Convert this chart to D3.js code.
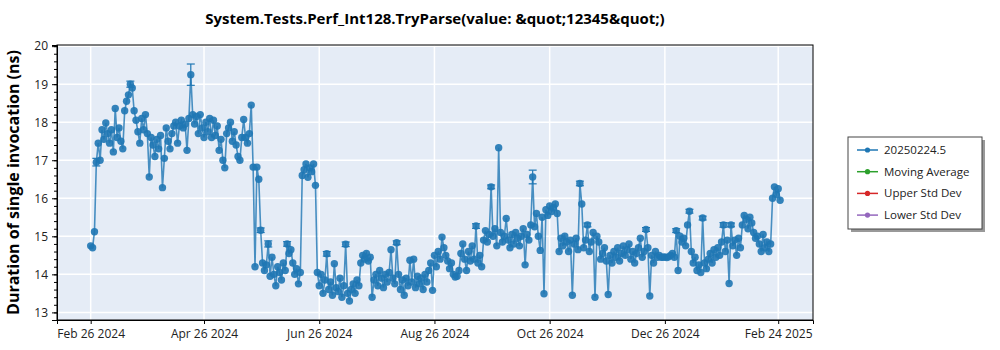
<html>
<head>
    <meta charset="utf-8">
    <title>System.Tests.Perf_Int128.TryParse</title>
    <style>
        body { margin: 0; background: #fff; }
        text { font-family: "Open Sans", "Noto Sans", sans-serif; }
    </style>
</head>
<body>
<script src="https://cdn.jsdelivr.net/npm/d3@7"></script>
<script>
    var width = 1000, height = 350;

    // first run date, one result per day after it
    const startDate = "2024-02-26";
    const values = [
        14.75, 14.7, 15.12, 16.95, 17.45, 17.0, 17.8, 17.55, 17.98, 17.7,
        17.45, 17.8, 17.22, 18.36, 17.6, 17.85, 17.5, 17.3, 18.3, 18.55,
        18.72, 19.0, 18.9, 18.3, 18.05, 17.75, 17.45, 18.1, 17.8, 18.2,
        17.7, 16.56, 17.6, 17.4, 17.1, 17.55, 17.3, 17.65, 16.28, 17.05,
        17.85, 17.5, 17.3, 17.7, 17.9, 18.0, 17.45, 17.9, 18.05, 17.85,
        17.95, 17.26, 18.1, 19.25, 18.2, 17.95, 18.15, 17.7, 18.2, 17.85,
        17.6, 18.0, 17.75, 18.1, 17.6, 18.05, 17.65, 17.9, 17.26, 17.55,
        17.0, 16.8, 17.7, 17.85, 18.0, 17.5, 17.75, 17.4, 17.1, 17.0,
        17.6, 18.07, 17.6, 17.45, 17.7, 18.45, 16.82, 14.2, 16.82, 16.5,
        15.16, 14.3, 14.1, 14.25, 14.8, 13.95, 14.45, 14.0, 13.7, 14.2,
        14.05, 13.85, 14.3, 14.1, 14.8, 14.55, 14.65, 14.3, 14.0, 14.15,
        13.75, 14.05, 16.6, 16.75, 16.9, 16.55, 16.8, 16.7, 16.9, 16.34,
        14.05, 13.7, 14.0, 13.5, 13.85, 14.54, 13.6, 13.8, 13.45, 14.28,
        13.65, 13.55, 13.9, 13.4, 13.7, 14.79, 13.5, 13.3, 13.6, 13.75,
        13.5, 13.85, 13.7, 14.3, 14.5, 14.4, 14.55, 14.35, 14.45, 13.4,
        13.85, 14.0, 13.7, 14.1, 13.9, 13.65, 14.0, 13.8, 14.05, 14.65,
        13.9, 13.75, 14.83, 14.0, 13.6, 13.85, 13.45, 13.9, 13.7, 14.37,
        13.8, 14.4, 13.65, 13.95, 13.75, 13.9, 13.6, 14.0, 13.8, 14.1,
        14.3, 13.58, 14.5, 14.2, 14.6, 14.4, 14.98, 14.7, 14.5, 14.35,
        14.15, 14.3, 14.0, 13.93, 13.95, 14.1, 14.55, 14.8, 14.4, 14.1,
        14.6, 14.35, 14.75, 14.4, 15.27, 14.3, 14.5, 14.2, 14.9, 15.15,
        14.85, 15.05, 16.3, 15.0, 15.2, 14.75, 17.33, 15.1, 14.85, 15.0,
        15.47, 14.9, 14.7, 15.05, 14.8, 15.1, 14.95, 14.75, 15.0, 15.2,
        14.25, 15.05, 14.9, 15.3, 16.56, 15.25, 15.6, 15.0, 14.63, 15.5,
        13.49, 15.7, 15.55, 15.8, 15.65, 15.75, 15.85, 15.6, 14.6, 14.95,
        14.75, 15.0, 14.85, 14.6, 14.9, 13.45, 14.8, 14.95, 14.65, 16.39,
        15.85, 14.7, 14.9, 15.3, 14.6, 14.85, 15.1, 13.4, 15.0, 14.85,
        14.4, 14.55, 14.7, 14.35, 13.47, 14.5, 14.3, 14.6, 14.45, 14.7,
        14.35, 14.55, 14.75, 14.5, 14.65, 14.8, 14.4, 14.6, 14.3, 14.55,
        14.7, 14.95, 14.45, 14.6, 15.18, 14.7, 13.43, 14.5, 14.3, 14.6,
        14.45, 14.5, 14.45, 14.45, 14.46, 14.44, 14.46, 14.5, 14.55, 14.45,
        15.15, 14.1, 15.0, 14.85, 14.95, 14.75, 15.3, 15.66, 14.6, 14.3,
        14.45, 14.1, 14.25, 14.05, 15.48, 14.3, 14.15, 14.4, 14.55, 14.3,
        14.65, 14.45, 14.7, 14.5, 14.85, 15.3, 14.6, 14.9, 13.76, 15.3,
        14.75, 14.9, 14.5, 14.95, 14.7, 15.3, 15.55, 15.45, 15.2, 15.5,
        15.35, 15.1, 14.95, 15.0, 14.8, 14.6, 15.05, 14.7, 14.85, 14.6,
        14.8, 16.0, 16.3, 16.1, 16.25, 15.95
    ];
    // runs whose error bars stick out past the marker
    const errIndex = [3, 21, 53, 90, 94, 104, 125, 135, 162, 204, 212, 234, 259, 263, 294, 310, 317, 324, 335, 339];
    const errSize = [0.1, 0.08, 0.28, 0.06, 0.08, 0.06, 0.06, 0.06, 0.05, 0.06, 0.05, 0.18, 0.06, 0.05, 0.05, 0.05, 0.05, 0.05, 0.06, 0.05];

    const tickDates = ["2024-02-26", "2024-04-26", "2024-06-26", "2024-08-26", "2024-10-26", "2024-12-26", "2025-02-24"];
    const yTicks = [13, 14, 15, 16, 17, 18, 19, 20];
    const legendNames = ["20250224.5", "Moving Average", "Upper Std Dev", "Lower Std Dev"];
    const legendColors = ["#1f77b4", "#2ca02c", "#d62728", "#9467bd"];

    var parse = d3.utcParse("%Y-%m-%d");
    var start = parse(startDate);
    var points = values.map(function (v, i) {
        return { date: d3.utcDay.offset(start, i), value: v };
    });

    var plotL = 57, plotR = 813, plotT = 45, plotB = 320;

    var x = d3.scaleUtc()
        .domain([d3.utcParse("%Y-%m-%dT%H")("2024-02-08T04"), d3.utcParse("%Y-%m-%dT%H")("2025-03-14T10")])
        .range([plotL, plotR]);
    var y = d3.scaleLinear()
        .domain([12.8, 20.03])
        .range([plotB, plotT]);

    var svg = d3.select("body").append("svg")
        .attr("width", width)
        .attr("height", height);

    // plot background
    svg.append("rect")
        .attr("x", plotL).attr("y", plotT)
        .attr("width", plotR - plotL).attr("height", plotB - plotT)
        .attr("fill", "#e5ecf6");

    // grid lines
    svg.append("g").selectAll("line")
        .data(yTicks)
        .enter().append("line")
        .attr("x1", plotL).attr("x2", plotR)
        .attr("y1", d => y(d)).attr("y2", d => y(d))
        .attr("stroke", "#fff").attr("stroke-width", 1.5);
    svg.append("g").selectAll("line")
        .data(tickDates.map(parse))
        .enter().append("line")
        .attr("y1", plotT).attr("y2", plotB)
        .attr("x1", d => x(d)).attr("x2", d => x(d))
        .attr("stroke", "#fff").attr("stroke-width", 1.5);

    var blue = "#1f77b4";
    var plot = svg.append("g");

    var line = d3.line()
        .x(d => x(d.date))
        .y(d => y(d.value));
    plot.append("path")
        .datum(points)
        .attr("d", line)
        .attr("fill", "none")
        .attr("stroke", blue)
        .attr("stroke-opacity", 0.8)
        .attr("stroke-width", 1.6);

    // error bars
    var errs = errIndex.map(function (idx, k) { return { p: points[idx], e: errSize[k] }; });
    var eg = plot.selectAll("g.err")
        .data(errs)
        .enter().append("g")
        .attr("class", "err")
        .attr("stroke", blue).attr("stroke-width", 1.2);
    eg.append("line")
        .attr("x1", d => x(d.p.date)).attr("x2", d => x(d.p.date))
        .attr("y1", d => y(d.p.value - d.e)).attr("y2", d => y(d.p.value + d.e));
    eg.append("line")
        .attr("x1", d => x(d.p.date) - 4).attr("x2", d => x(d.p.date) + 4)
        .attr("y1", d => y(d.p.value + d.e)).attr("y2", d => y(d.p.value + d.e));
    eg.append("line")
        .attr("x1", d => x(d.p.date) - 4).attr("x2", d => x(d.p.date) + 4)
        .attr("y1", d => y(d.p.value - d.e)).attr("y2", d => y(d.p.value - d.e));

    plot.selectAll("circle")
        .data(points)
        .enter().append("circle")
        .attr("cx", d => x(d.date))
        .attr("cy", d => y(d.value))
        .attr("r", 3.7)
        .attr("fill", blue)
        .attr("fill-opacity", 0.9);

    // frame
    svg.append("rect")
        .attr("x", plotL).attr("y", plotT)
        .attr("width", plotR - plotL).attr("height", plotB - plotT)
        .attr("fill", "none").attr("stroke", "#000").attr("stroke-width", 1);

    // y axis with minor ticks
    var yAxis = svg.append("g").attr("transform", "translate(" + plotL + ",0)");
    yAxis.call(d3.axisLeft(y).tickValues(d3.range(13, 20.01, 0.2)).tickSize(3).tickFormat(""));
    yAxis.append("g").call(d3.axisLeft(y).tickValues(yTicks).tickSize(5).tickPadding(4).tickFormat(d3.format("d")));
    yAxis.selectAll(".domain").attr("stroke", "#000");
    yAxis.selectAll("text").attr("font-size", "12px").attr("fill", "#222")
        .style("font-family", "'Open Sans', 'Noto Sans', sans-serif");

    var xAxis = svg.append("g").attr("transform", "translate(0," + plotB + ")");
    xAxis.call(d3.axisBottom(x).tickValues(tickDates.map(parse)).tickSize(4).tickPadding(5)
        .tickFormat(d3.utcFormat("%b %d %Y")));
    xAxis.selectAll(".domain").attr("stroke", "#000");
    xAxis.selectAll("text").attr("font-size", "12px").attr("fill", "#222")
        .style("font-family", "'Open Sans', 'Noto Sans', sans-serif");

    // titles
    svg.append("text")
        .attr("x", (plotL + plotR) / 2).attr("y", 24)
        .attr("text-anchor", "middle")
        .attr("font-size", "15px").attr("font-weight", "bold")
        .text("System.Tests.Perf_Int128.TryParse(value: &quot;12345&quot;)");
    svg.append("text")
        .attr("transform", "translate(19," + ((plotT + plotB) / 2) + ") rotate(-90)")
        .attr("text-anchor", "middle")
        .attr("font-size", "16px").attr("font-weight", "bold")
        .text("Duration of single invocation (ns)");

    // legend
    var lg = svg.append("g").attr("transform", "translate(848,137)");
    lg.append("rect").attr("x", 3).attr("y", 3).attr("width", 134).attr("height", 92).attr("fill", "#999");
    lg.append("rect").attr("width", 134).attr("height", 92).attr("fill", "#fff").attr("stroke", "#444");
    var items = lg.selectAll("g.item")
        .data(legendNames)
        .enter().append("g")
        .attr("class", "item")
        .attr("transform", (d, i) => "translate(0," + (13 + i * 21.7) + ")");
    items.append("line").attr("x1", 9).attr("x2", 30)
        .attr("stroke", (d, i) => legendColors[i]).attr("stroke-width", 1.5);
    items.append("circle").attr("cx", 19.5).attr("r", 2.6)
        .attr("fill", (d, i) => legendColors[i]);
    items.append("text").attr("x", 36).attr("y", 4)
        .attr("font-size", "11.5px").attr("fill", "#222")
        .text(d => d);
</script>
</body>
</html>
